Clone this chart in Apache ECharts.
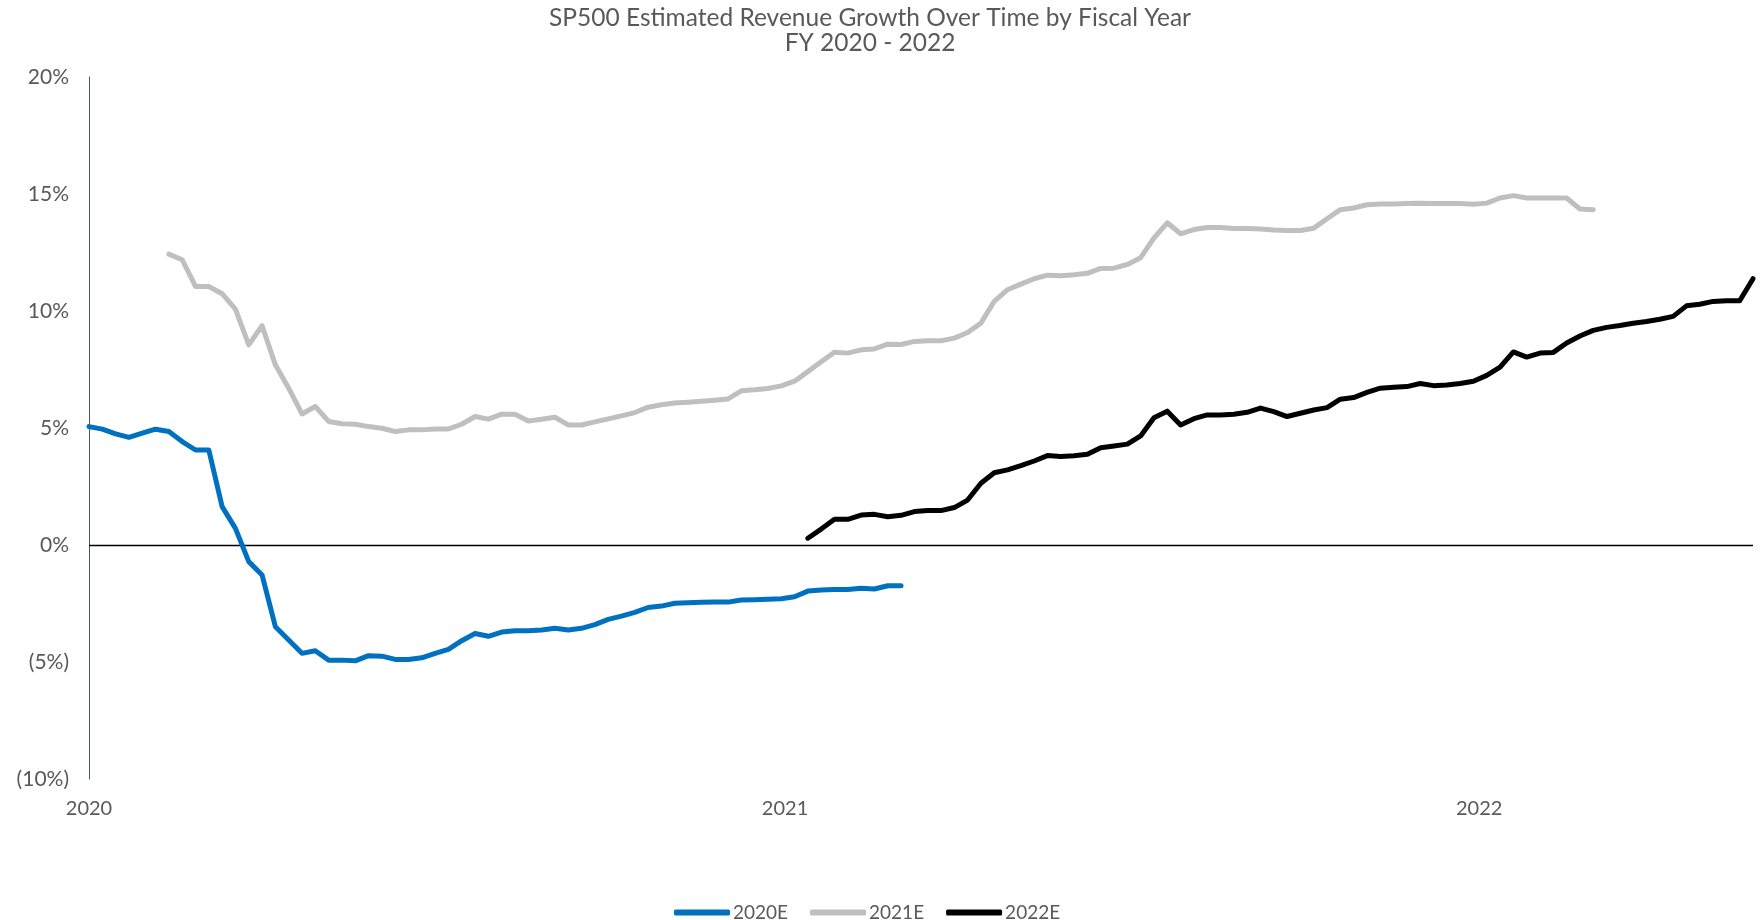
<!DOCTYPE html>
<html>
<head>
<meta charset="utf-8">
<title>SP500 Estimated Revenue Growth</title>
<script src="https://cdn.jsdelivr.net/npm/echarts@6/dist/echarts.min.js"></script>
<style>
  html, body { margin: 0; padding: 0; background: #fff; }
  #chart { width: 1762px; height: 920px; }
</style>
</head>
<body>
<div id="chart"></div>
<script>
// weekly estimates, first week of the x axis is 2020-01-01
var startDate = new Date(2020, 0, 1);
var axisEnd = new Date(2022, 4, 25);
var yearTicks = ['2020', '2021', '2022'];
var yTickLabels = { '-10': '(10%)', '-5': '(5%)', '0': '0%', '5': '5%', '10': '10%', '15': '15%', '20': '20%' };

var seriesNames = ['2020E', '2021E', '2022E'];
// week index of each series' first value
var firstWeek = [0, 6, 54];

var fy2020 = [5.06, 4.95, 4.75, 4.60, 4.78, 4.95, 4.85, 4.42, 4.06, 4.06,
  1.64, 0.71, -0.71, -1.28, -3.49, -4.06, -4.63, -4.52, -4.92, -4.92,
  -4.95, -4.73, -4.75, -4.89, -4.89, -4.82, -4.63, -4.46, -4.09, -3.78,
  -3.90, -3.72, -3.66, -3.66, -3.63, -3.56, -3.63, -3.56, -3.40, -3.18,
  -3.04, -2.88, -2.67, -2.61, -2.49, -2.47, -2.45, -2.44, -2.44, -2.35,
  -2.34, -2.32, -2.30, -2.21, -1.97, -1.92, -1.90, -1.90, -1.85, -1.88,
  -1.74, -1.74];

var fy2021 = [12.43, 12.19, 11.05, 11.05, 10.74, 10.08, 8.55, 9.37, 7.70, 6.70,
  5.60, 5.92, 5.28, 5.18, 5.16, 5.06, 4.99, 4.85, 4.92, 4.92,
  4.96, 4.96, 5.16, 5.49, 5.38, 5.59, 5.59, 5.30, 5.37, 5.46,
  5.13, 5.13, 5.26, 5.39, 5.52, 5.66, 5.89, 5.99, 6.07, 6.10,
  6.14, 6.19, 6.24, 6.59, 6.63, 6.69, 6.80, 7.00, 7.41, 7.83,
  8.24, 8.20, 8.34, 8.38, 8.58, 8.57, 8.70, 8.73, 8.73, 8.84,
  9.08, 9.48, 10.41, 10.91, 11.15, 11.38, 11.53, 11.51, 11.55, 11.61,
  11.82, 11.83, 11.99, 12.28, 13.12, 13.77, 13.30, 13.48, 13.57, 13.57,
  13.53, 13.53, 13.50, 13.46, 13.44, 13.44, 13.54, 13.94, 14.33, 14.40,
  14.54, 14.57, 14.57, 14.59, 14.60, 14.59, 14.59, 14.59, 14.56, 14.61,
  14.83, 14.93, 14.83, 14.83, 14.83, 14.83, 14.36, 14.33];

var fy2022 = [0.29, 0.68, 1.10, 1.10, 1.28, 1.31, 1.21, 1.27, 1.43, 1.47,
  1.47, 1.60, 1.92, 2.64, 3.09, 3.21, 3.39, 3.59, 3.82, 3.78,
  3.81, 3.88, 4.16, 4.23, 4.31, 4.66, 5.44, 5.72, 5.13, 5.40,
  5.56, 5.56, 5.59, 5.67, 5.85, 5.70, 5.49, 5.63, 5.77, 5.87,
  6.23, 6.30, 6.52, 6.70, 6.74, 6.77, 6.90, 6.81, 6.84, 6.90,
  7.00, 7.25, 7.60, 8.25, 8.03, 8.20, 8.23, 8.63, 8.93, 9.17,
  9.30, 9.38, 9.48, 9.55, 9.65, 9.77, 10.22, 10.29, 10.41, 10.44,
  10.44, 11.38];

var colors = ['#0070c0', '#bfbfbf', '#000000'];

function toPairs(values, week) {
  var list = [];
  for (var i = 0; i < values.length; i++) {
    var d = new Date(startDate.getTime());
    d.setDate(d.getDate() + (week + i) * 7);
    list.push([d.getTime(), values[i]]);
  }
  return list;
}

var myChart = echarts.init(document.getElementById('chart'));
var labelFont = 'Lato, "Open Sans", sans-serif';

var allValues = [fy2020, fy2021, fy2022];
var series = [];
for (var s = 0; s < allValues.length; s++) {
  series.push({
    name: seriesNames[s],
    type: 'line',
    symbol: 'none',
    data: toPairs(allValues[s], firstWeek[s]),
    lineStyle: { color: colors[s], width: 5, cap: 'round', join: 'round' },
    itemStyle: { color: colors[s] },
    z: 3
  });
}
// horizontal 0% line
series[0].markLine = {
  silent: true,
  symbol: ['none', 'none'],
  label: { show: false },
  lineStyle: { color: '#000', width: 1.3, type: 'solid' },
  data: [{ yAxis: 0 }],
  z: 1
};

var option = {
  animation: false,
  title: {
    text: 'SP500 Estimated Revenue Growth Over Time by Fiscal Year\nFY 2020 - 2022',
    left: 865,
    top: 0,
    textAlign: 'center',
    textStyle: {
      fontFamily: labelFont,
      fontSize: 24.5,
      lineHeight: 25.5,
      fontWeight: 'normal',
      color: '#595959'
    }
  },
  legend: {
    data: seriesNames,
    left: 674,
    top: 903,
    padding: 0,
    icon: 'roundRect',
    itemWidth: 56,
    itemHeight: 6,
    itemGap: 22,
    textStyle: { fontFamily: labelFont, fontSize: 19, color: '#595959', padding: [0, 0, 0, -2] }
  },
  grid: {
    left: 89,
    right: 9,
    top: 77,
    bottom: 141,
    containLabel: false,
    outerBoundsMode: 'none'
  },
  xAxis: {
    type: 'time',
    min: startDate.getTime(),
    max: axisEnd.getTime(),
    axisLine: { show: false },
    axisTick: { show: false },
    splitLine: { show: false },
    axisLabel: {
      showMinLabel: true,
      margin: 20,
      fontFamily: labelFont,
      fontSize: 20,
      color: '#595959',
      formatter: function (value) {
        var d = new Date(value);
        var y = String(d.getFullYear());
        if (d.getMonth() === 0 && d.getDate() === 1 && yearTicks.indexOf(y) > -1) {
          return y;
        }
        return '';
      }
    }
  },
  yAxis: {
    type: 'value',
    min: -10,
    max: 20,
    interval: 5,
    axisLine: { show: true, lineStyle: { color: '#44546a', width: 1 } },
    axisTick: { show: false },
    splitLine: { show: false },
    axisLabel: {
      margin: 20,
      fontFamily: labelFont,
      fontSize: 21,
      color: '#595959',
      formatter: function (v) {
        return yTickLabels[String(v)];
      }
    }
  },
  series: series
};
myChart.setOption(option);
</script>
</body>
</html>
